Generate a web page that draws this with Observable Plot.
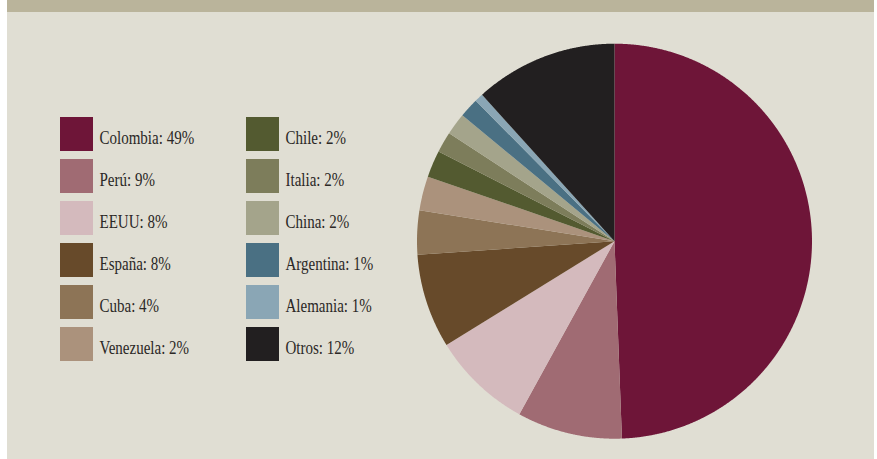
<!DOCTYPE html>
<html>
<head>
<meta charset="utf-8">
<script src="https://cdn.jsdelivr.net/npm/d3@7"></script>
<script src="https://cdn.jsdelivr.net/npm/@observablehq/plot@0.6"></script>
<style>
  html, body { margin: 0; padding: 0; background: #ffffff; }
  #frame { position: relative; width: 877px; height: 459px; overflow: hidden; }
  #panel { position: absolute; left: 7px; top: 0; width: 867px; height: 459px; background: #e0ded3; }
  #bar { position: absolute; left: 7px; top: 0; width: 867px; height: 12px; background: #bab49b; }
  .layer { position: absolute; left: 0; top: 0; }
</style>
</head>
<body>
<div id="frame">
  <div id="panel"></div>
  <div id="bar"></div>
  <div id="pie" class="layer"></div>
  <div id="legend" class="layer"></div>
</div>
<script>
// ---- data ----
const countries = ["Colombia", "Perú", "EEUU", "España", "Cuba", "Venezuela", "Chile", "Italia", "China", "Argentina", "Alemania", "Otros"];
const shares = [49.4, 8.6, 8.2, 7.7, 3.6, 2.8, 2.2, 1.7, 1.8, 1.6, 0.7, 11.7];
const labels = ["49%", "9%", "8%", "8%", "4%", "2%", "2%", "2%", "2%", "1%", "1%", "12%"];
const colors = ["#6e1538", "#a06b73", "#d4babd", "#674a2a", "#8d7456", "#ab927c", "#535a30", "#7d7d5b", "#a4a48b", "#4a7083", "#8aa6b5", "#221f20"];

const table = countries.map((name, i) => ({name, share: shares[i], label: labels[i], col: Math.floor(i / 6), row: i % 6}));
const color = {domain: countries, range: colors};

// ---- pie ----
const cx = 614, cy = 240.7, r = 197.5;
const arcs = d3.pie().sort(null).value(d => d.share)(table);
const pts = [];
for (const a of arcs) {
  pts.push({name: a.data.name, x: 0, y: 0});
  const n = Math.max(2, Math.ceil((a.endAngle - a.startAngle) / 0.004));
  for (let k = 0; k <= n; k++) {
    const t = a.startAngle + (a.endAngle - a.startAngle) * k / n;
    pts.push({name: a.data.name, x: Math.sin(t), y: Math.cos(t)});
  }
}
const pie = Plot.plot({
  width: 877, height: 459, margin: 0,
  x: {domain: [-1, 1], range: [cx - r, cx + r], axis: null},
  y: {domain: [-1, 1], range: [cy + r, cy - r], axis: null},
  color,
  style: {background: "transparent", overflow: "visible"},
  marks: [
    Plot.line(pts, {x: "x", y: "y", z: "name", fill: "name", stroke: "none", curve: "linear"})
  ]
});
document.getElementById("pie").appendChild(pie);

// ---- legend ----
const legend = Plot.plot({
  width: 877, height: 459, margin: 0,
  x: {type: "band", domain: [0, 1], range: [60, 279], paddingInner: 0.823, paddingOuter: 0, axis: null},
  y: {type: "band", domain: [0, 1, 2, 3, 4, 5], range: [107.3, 371.8], padding: 0.18, axis: null},
  color,
  style: {background: "transparent", overflow: "visible"},
  marks: [
    Plot.cell(table, {x: "col", y: "row", fill: "name"}),
    Plot.text(table, {
      x: "col", y: "row", text: d => `${d.name}: ${d.label}`,
      textAnchor: "start", dx: 22.5, dy: 3,
      fontSize: 19, fontFamily: "Liberation Serif", fill: "#2b2826"
    })
  ]
});
document.getElementById("legend").appendChild(legend);
legend.querySelectorAll("text").forEach(t => {
  const w = t.getComputedTextLength();
  t.setAttribute("textLength", (w * 0.79).toFixed(2));
  t.setAttribute("lengthAdjust", "spacingAndGlyphs");
});
</script>
</body>
</html>
